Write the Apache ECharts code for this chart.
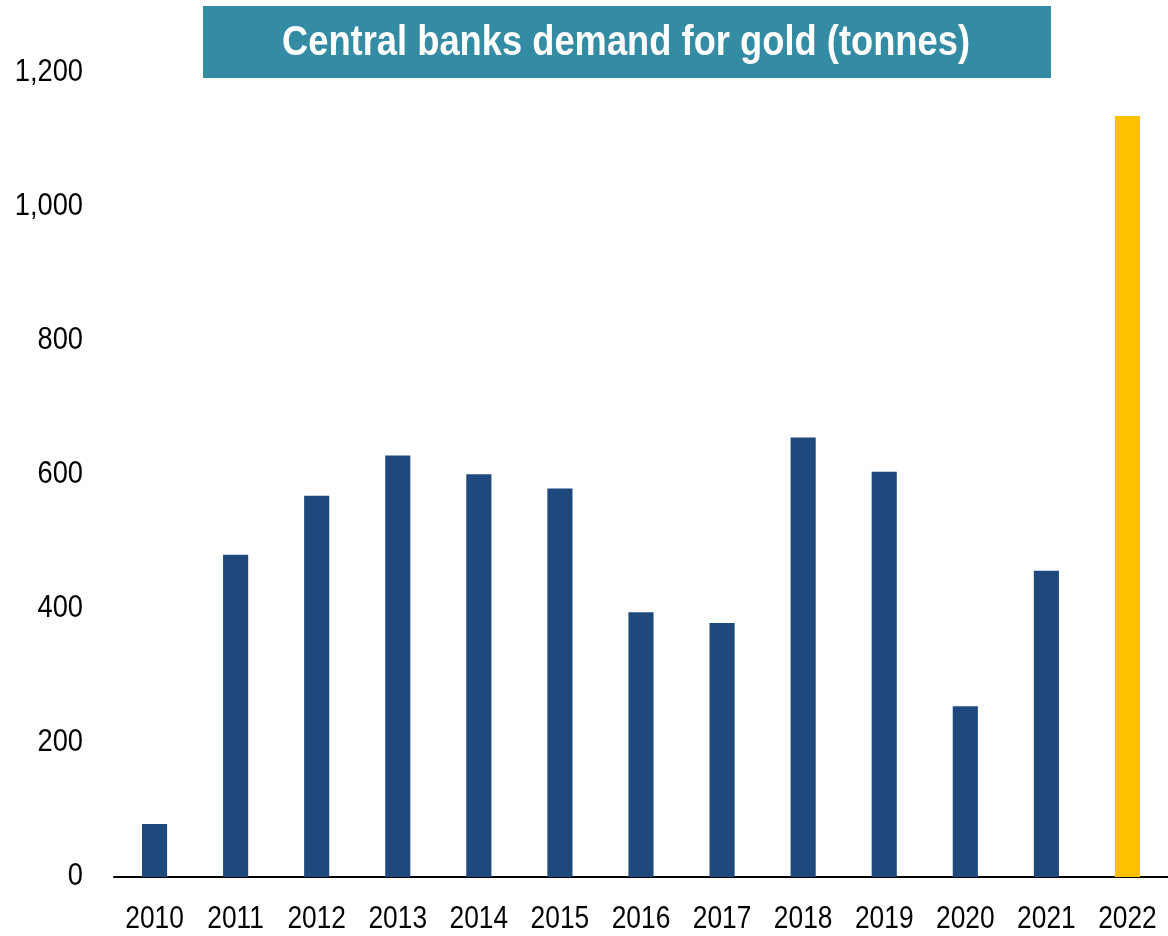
<!DOCTYPE html>
<html>
<head>
<meta charset="utf-8">
<script src="https://cdn.jsdelivr.net/npm/echarts@6/dist/echarts.min.js"></script>
<style>
html,body{margin:0;padding:0;background:#fff;}
#chart{width:1168px;height:936px;}
</style>
</head>
<body>
<div id="chart"></div>
<script>
const categories = ['2010','2011','2012','2013','2014','2015','2016','2017','2018','2019','2020','2021','2022'];
const demand = [79, 481, 569, 629, 601, 580, 395, 379, 656, 605, 255, 457, 1136];
const yTicks = [0, 200, 400, 600, 800, 1000, 1200];
const highlightYear = '2022';
const titleText = 'Central banks demand for gold (tonnes)';

const FONT = '"Liberation Sans", Arial, sans-serif';
const chart = echarts.init(document.getElementById('chart'));
chart.setOption({
  animation: false,
  backgroundColor: '#ffffff',
  grid: { left: 114, right: -2, top: 73, bottom: 59, containLabel: false },
  xAxis: {
    type: 'category',
    data: categories,
    axisLine: { show: true, lineStyle: { color: '#000', width: 2 } },
    axisTick: { show: false },
    axisLabel: { show: false }
  },
  yAxis: {
    type: 'value',
    min: yTicks[0], max: yTicks[yTicks.length - 1], interval: 200,
    axisLine: { show: false },
    axisTick: { show: false },
    splitLine: { show: false },
    axisLabel: { show: false }
  },
  series: [{
    type: 'bar',
    barWidth: '31%',
    data: demand.map((v, i) => ({
      value: v,
      itemStyle: { color: categories[i] === highlightYear ? '#FFC000' : '#1F497D' }
    }))
  }]
});

// Measure title to fit a condensed look
const ctx = document.createElement('canvas').getContext('2d');
ctx.font = 'bold 42px ' + FONT;
const titleW = ctx.measureText(titleText).width;
const titleScale = Math.min(1, 688 / titleW);

const gfx = [
  { type: 'rect', x: 203, y: 6, shape: { width: 848, height: 72 }, style: { fill: '#348BA4' } },
  { type: 'text', x: 626, y: 43, scaleX: titleScale, style: { text: titleText, fill: '#fff', font: 'bold 42px ' + FONT, textAlign: 'center', textVerticalAlign: 'middle' } }
];
const axisY = chart.convertToPixel({ yAxisIndex: 0 }, 0);
categories.forEach(c => {
  const px = chart.convertToPixel({ xAxisIndex: 0 }, c);
  gfx.push({ type: 'text', x: px, y: axisY + 42, scaleX: 0.85,
    style: { text: c, fill: '#000', font: '31px ' + FONT, textAlign: 'center', textVerticalAlign: 'middle' } });
});
yTicks.forEach(t => {
  const py = chart.convertToPixel({ yAxisIndex: 0 }, t);
  gfx.push({ type: 'text', x: 83, y: py - 1, scaleX: 0.88,
    style: { text: t.toLocaleString('en-US'), fill: '#000', font: '31px ' + FONT, textAlign: 'right', textVerticalAlign: 'middle' } });
});
chart.setOption({ graphic: gfx });
</script>
</body>
</html>
